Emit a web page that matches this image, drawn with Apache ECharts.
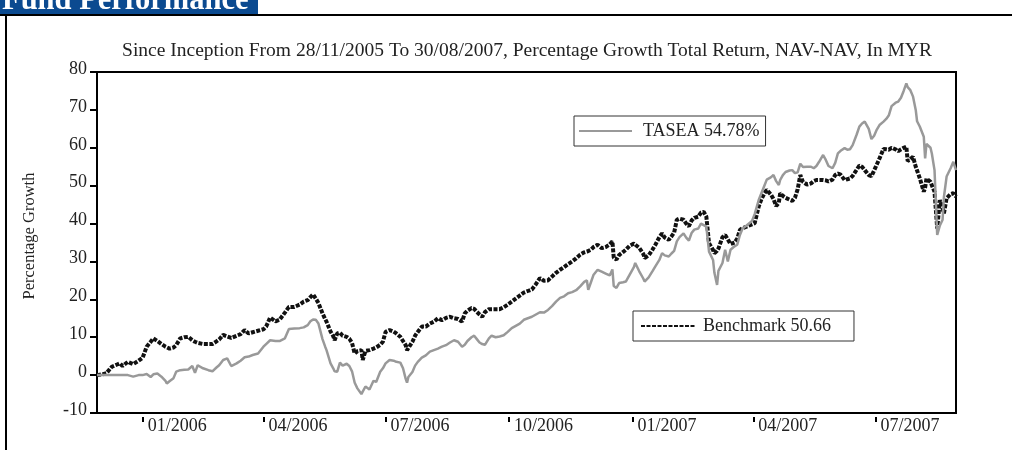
<!DOCTYPE html>
<html>
<head>
<meta charset="utf-8">
<script src="https://cdn.jsdelivr.net/npm/echarts@6/dist/echarts.min.js"></script>
<style>
html, body { margin: 0; padding: 0; background: #fff; }
#chart { width: 1012px; height: 450px; }
</style>
</head>
<body>
<div id="chart"></div>
<script>
// dates of the readings (one list shared by both lines)
const dates = [
  '2005-11-28','2005-12-02','2005-12-05','2005-12-09','2005-12-13','2005-12-15','2005-12-17','2005-12-21','2005-12-25','2005-12-29',
  '2006-01-01','2006-01-04','2006-01-07','2006-01-09','2006-01-12','2006-01-15','2006-01-18','2006-01-19','2006-01-21','2006-01-24','2006-01-26','2006-01-29',
  '2006-02-01','2006-02-04','2006-02-07','2006-02-09','2006-02-11','2006-02-15','2006-02-19','2006-02-22','2006-02-25','2006-02-27',
  '2006-03-02','2006-03-05','2006-03-08','2006-03-12','2006-03-15','2006-03-18','2006-03-21','2006-03-24','2006-03-28',
  '2006-04-01','2006-04-03','2006-04-06','2006-04-10','2006-04-13','2006-04-17','2006-04-20','2006-04-24','2006-04-28',
  '2006-05-01','2006-05-04','2006-05-06','2006-05-08','2006-05-10','2006-05-12','2006-05-15','2006-05-17','2006-05-18','2006-05-21','2006-05-23','2006-05-24','2006-05-26','2006-05-28','2006-05-30',
  '2006-06-02','2006-06-04','2006-06-06','2006-06-08','2006-06-10','2006-06-13','2006-06-14','2006-06-16','2006-06-19','2006-06-22','2006-06-24','2006-06-27','2006-06-29',
  '2006-07-01','2006-07-04','2006-07-07','2006-07-09','2006-07-12','2006-07-14','2006-07-16','2006-07-17','2006-07-18','2006-07-21','2006-07-23','2006-07-25','2006-07-28','2006-07-31',
  '2006-08-03','2006-08-06','2006-08-09','2006-08-12','2006-08-15','2006-08-18','2006-08-21','2006-08-24','2006-08-27','2006-08-29','2006-08-31',
  '2006-09-03','2006-09-05','2006-09-07','2006-09-09','2006-09-11','2006-09-13','2006-09-16','2006-09-18','2006-09-21','2006-09-24','2006-09-27','2006-09-30',
  '2006-10-03','2006-10-06','2006-10-09','2006-10-12','2006-10-15','2006-10-18','2006-10-21','2006-10-24','2006-10-27','2006-10-30',
  '2006-11-02','2006-11-05','2006-11-08','2006-11-11','2006-11-14','2006-11-17','2006-11-20','2006-11-23','2006-11-26','2006-11-28','2006-11-29',
  '2006-12-01','2006-12-03','2006-12-06','2006-12-09','2006-12-12','2006-12-15','2006-12-17','2006-12-18','2006-12-20','2006-12-22','2006-12-25','2006-12-27','2006-12-30',
  '2007-01-02','2007-01-03','2007-01-06','2007-01-09','2007-01-10','2007-01-13','2007-01-16','2007-01-18','2007-01-21','2007-01-23','2007-01-25','2007-01-28','2007-01-30',
  '2007-02-01','2007-02-03','2007-02-05','2007-02-08','2007-02-10','2007-02-12','2007-02-14','2007-02-16','2007-02-19','2007-02-21','2007-02-23','2007-02-25','2007-02-27',
  '2007-03-02','2007-03-03','2007-03-05','2007-03-06','2007-03-09','2007-03-11','2007-03-13','2007-03-15','2007-03-18','2007-03-20','2007-03-22','2007-03-24','2007-03-27','2007-03-29','2007-03-31',
  '2007-04-02','2007-04-05','2007-04-07','2007-04-09','2007-04-11','2007-04-14','2007-04-16','2007-04-18','2007-04-20','2007-04-21','2007-04-23','2007-04-25','2007-04-28','2007-04-30',
  '2007-05-02','2007-05-04','2007-05-06','2007-05-08','2007-05-11','2007-05-14','2007-05-16','2007-05-18','2007-05-20','2007-05-23','2007-05-25','2007-05-27','2007-05-30',
  '2007-06-01','2007-06-03','2007-06-05','2007-06-08','2007-06-10','2007-06-12','2007-06-14','2007-06-17','2007-06-19','2007-06-21','2007-06-23','2007-06-26','2007-06-28','2007-06-30',
  '2007-07-02','2007-07-04','2007-07-07','2007-07-09','2007-07-11','2007-07-13','2007-07-16','2007-07-18','2007-07-20','2007-07-22','2007-07-24','2007-07-25','2007-07-27','2007-07-29','2007-07-31',
  '2007-08-01','2007-08-03','2007-08-06','2007-08-07','2007-08-08','2007-08-11','2007-08-12','2007-08-14','2007-08-16','2007-08-18','2007-08-20','2007-08-21','2007-08-23','2007-08-26','2007-08-28','2007-08-30'
]

const tasea = [
  0, 0, 0, 0, 0, 0, 0, 0, -0.4, 0,
  0, 0.3, -0.5, 0.2, 0.4, -0.4, -1.5, -2.2, -1.6, -0.8, 0.9, 1.3,
  1.4, 1.5, 2.4, 0.6, 2.6, 1.8, 1.3, 1.0, 2.0, 2.6,
  4.0, 4.4, 2.4, 3.1, 3.8, 4.7, 4.9, 5.3, 5.7,
  7.5, 8.2, 9.2, 9.0, 9.0, 9.7, 12.2, 12.3, 12.4,
  12.6, 13.2, 14.2, 14.7, 14.6, 13.6, 9.5, 7.5, 6.6, 3.1, 1.8, 1.0, 0.9, 3.3, 2.5,
  3.0, 2.4, 1.0, -2.0, -3.5, -5.0, -4.6, -3.0, -3.8, -1.5, -1.8, 0.9, 1.8,
  3.1, 4.0, 3.8, 3.5, 3.3, 1.8, -1.0, -2.0, -0.5, 0.8, 2.5, 3.5, 4.6, 5.2,
  6.2, 6.6, 7.0, 7.5, 7.9, 8.6, 9.2, 8.8, 7.5, 8.0, 9.0,
  10.0, 10.4, 9.5, 8.6, 8.2, 8.0, 9.7, 10.4, 10.0, 10.2, 10.5, 11.4,
  12.4, 13.0, 13.6, 14.6, 15.0, 15.4, 16.0, 16.6, 16.5, 17.2,
  18.2, 19.4, 20.4, 20.8, 21.6, 21.9, 22.4, 23.4, 24.6, 25.0, 22.5,
  24.5, 26.5, 27.8, 27.3, 26.8, 26.3, 27.9, 23.5, 23.0, 24.3, 24.5, 24.7, 26.6,
  28.5, 29.6, 27.4, 25.5, 24.7, 25.8, 27.5, 28.7, 30.4, 32.2, 31.6, 31.3, 32.1,
  32.8, 35.3, 36.4, 37.4, 36.3, 35.5, 37.5, 38.4, 38.7, 40.0, 39.6, 39.2, 32.6,
  30.4, 27.0, 23.8, 27.5, 29.6, 33.1, 30.0, 33.1, 34.0, 34.4, 37.0, 38.7, 39.5, 40.1, 40.7,
  42.5, 46.2, 48.0, 49.8, 51.6, 52.2, 52.8, 51.2, 50.2, 51.5, 52.8, 53.6, 54.0, 54.1,
  53.3, 53.5, 55.8, 54.9, 55.0, 55.0, 54.6, 55.2, 56.3, 58.1, 56.8, 55.2, 54.6,
  56.0, 58.5, 59.2, 59.9, 59.5, 59.6, 60.7, 63.5, 65.6, 66.4, 66.9, 65.0, 62.3, 63.2,
  64.8, 66.0, 66.9, 67.6, 68.6, 71.0, 71.9, 72.2, 73.2, 75.0, 77.0, 76.0, 75.2, 73.5, 70.0,
  67.0, 65.6, 62.9, 57.2, 61.0, 60.0, 58.5, 54.1, 37.0, 39.5, 41.0, 47.0, 52.4, 54.6, 56.3, 54.1
]

const benchmark = [
  0, 0.2, 0.5, 2.2, 2.8, 3.1, 2.4, 3.5, 2.9, 3.8,
  4.6, 7.5, 8.8, 9.7, 9.0, 8.2, 7.5, 7.4, 7.0, 7.3, 7.9, 9.7,
  10.0, 10.1, 9.2, 8.8, 8.5, 8.2, 8.2, 8.2, 8.9, 9.4,
  10.6, 10.2, 9.8, 10.4, 10.8, 11.9, 11.0, 11.3, 11.7,
  12.1, 12.8, 15.2, 14.2, 14.6, 16.5, 18.0, 18.0, 18.6,
  19.4, 19.8, 20.6, 21.3, 20.2, 19.0, 16.3, 14.8, 14.1, 11.5, 10.3, 9.2, 11.0, 11.2, 10.4,
  10.1, 9.6, 8.5, 5.7, 6.3, 6.6, 4.0, 6.4, 6.6, 7.0, 7.3, 8.0, 8.8,
  11.4, 11.9, 11.5, 11.0, 10.1, 9.0, 7.9, 6.6, 6.2, 8.8, 10.4, 11.4, 12.8, 12.8,
  13.6, 14.1, 15.0, 14.5, 15.1, 15.4, 15.0, 14.8, 14.1, 16.3, 17.0,
  17.7, 17.5, 16.7, 16.0, 15.4, 16.6, 17.4, 17.4, 17.4, 17.4, 17.9, 18.6,
  19.4, 20.2, 21.0, 21.8, 22.2, 22.6, 24.0, 25.6, 24.9, 25.0,
  26.0, 27.0, 27.8, 28.5, 29.3, 30.0, 30.8, 31.8, 32.4, 32.6, 32.7,
  33.1, 33.8, 34.4, 33.5, 33.8, 34.5, 35.3, 31.0, 30.5, 31.7, 32.5, 33.1, 34.2,
  34.7, 34.8, 33.6, 32.0, 30.9, 31.6, 33.2, 34.4, 36.4, 37.4, 36.3, 35.7, 36.6,
  37.6, 41.0, 41.3, 41.0, 40.0, 39.3, 40.8, 41.5, 41.8, 42.9, 43.1, 41.8, 34.8,
  33.0, 32.2, 32.8, 33.4, 36.4, 37.0, 35.8, 34.6, 35.0, 36.0, 38.3, 38.8, 39.2, 39.5, 39.8,
  40.1, 44.5, 46.4, 47.8, 48.9, 47.7, 46.5, 44.6, 45.5, 48.0, 47.3, 46.8, 46.3, 46.0,
  46.8, 49.0, 52.8, 51.0, 50.3, 50.6, 51.2, 51.5, 51.5, 51.5, 51.4, 51.1, 51.6,
  52.8, 53.2, 52.9, 51.5, 51.7, 51.9, 52.6, 54.2, 55.3, 55.0, 54.1, 52.8, 52.5, 54.0,
  55.6, 57.2, 59.7, 59.6, 59.5, 60.0, 59.6, 59.1, 59.6, 60.0, 60.3, 56.5, 57.0, 57.6, 55.0,
  54.0, 52.0, 48.4, 49.5, 51.9, 51.0, 50.6, 48.4, 38.7, 46.2, 44.0, 42.7, 46.7, 47.8, 48.0, 47.1
]

// x axis tick positions (first day of each quarter)
const tickDates = ['2006-01-01', '2006-04-01', '2006-07-01', '2006-10-01', '2007-01-01', '2007-04-01', '2007-07-01']
const startDate = '2005-11-28'
const endDate = '2007-08-30'

const FONT = 'Liberation Serif'
const TEXT = '#222'

const toTime = (s) => {
  const [y, m, d] = s.split('-').map(Number)
  return new Date(y, m - 1, d).getTime()
}
const fmtMonth = (v) => {
  const d = new Date(v)
  return String(d.getMonth() + 1).padStart(2, '0') + '/' + d.getFullYear()
}

const tickValues = tickDates.map(toTime)
const xMin = toTime(startDate)
const xMax = toTime(endDate)

const chart = echarts.init(document.getElementById('chart'))

// legend sample: the line only, no symbol
const legendBase = {
  itemHeight: 14,
  borderColor: '#333',
  borderWidth: 1,
  backgroundColor: '#fff',
  selectedMode: false,
  itemStyle: { color: 'transparent', borderColor: 'transparent', borderWidth: 0 }
}

const option = {
  animation: false,
  backgroundColor: '#fff',
  title: {
    text: 'Since Inception From 28/11/2005 To 30/08/2007, Percentage Growth Total Return, NAV-NAV, In MYR',
    left: 522,
    top: 36,
    textAlign: 'center',
    textStyle: { fontFamily: FONT, fontSize: 19.5, fontWeight: 'normal', color: TEXT }
  },
  grid: {
    left: 97,
    right: 56,
    top: 72,
    bottom: 37,
    show: true,
    borderColor: '#000',
    borderWidth: 2
  },
  legend: [
    Object.assign({}, legendBase, {
      data: ['TASEA 54.78%'],
      left: 574,
      top: 116,
      padding: [5, 6, 5, 4],
      itemWidth: 53,
      textStyle: { fontFamily: FONT, fontSize: 18, color: TEXT, lineHeight: 20, padding: [0, 0, 0, 6] }
    }),
    Object.assign({}, legendBase, {
      data: ['Benchmark 50.66'],
      left: 633,
      top: 311,
      padding: [5, 23, 5, 7],
      itemWidth: 55,
      textStyle: { fontFamily: FONT, fontSize: 18, color: TEXT, lineHeight: 20, padding: [0, 0, 0, 2] }
    })
  ],
  xAxis: [
    {
      type: 'value',
      min: xMin,
      max: xMax,
      axisLine: { show: true, onZero: false, lineStyle: { color: '#000', width: 2 } },
      axisTick: { show: false },
      axisLabel: { show: false },
      splitLine: { show: false }
    },
    {
      type: 'value',
      position: 'bottom',
      offset: 4,
      min: xMin,
      max: xMax,
      axisLine: { show: false, onZero: false },
      axisTick: {
        show: true,
        length: 5,
        customValues: tickValues,
        lineStyle: { color: '#000', width: 2 }
      },
      axisLabel: {
        customValues: tickValues,
        formatter: fmtMonth,
        align: 'left',
        padding: [0, 0, 0, 5],
        margin: 0,
        lineHeight: 18,
        fontFamily: FONT,
        fontSize: 18,
        color: TEXT
      },
      splitLine: { show: false }
    }
  ],
  yAxis: {
    type: 'value',
    min: -10,
    max: 80,
    interval: 10,
    axisLine: { show: true, lineStyle: { color: '#000', width: 2 } },
    axisTick: { show: true, length: 7, lineStyle: { color: '#000', width: 2 } },
    axisLabel: {
      margin: 10,
      verticalAlign: 'bottom',
      lineHeight: 6,
      fontFamily: FONT,
      fontSize: 18,
      color: TEXT
    },
    splitLine: { show: false }
  },
  graphic: [
    { type: 'rect', shape: { x: 0, y: 0, width: 258, height: 14 }, style: { fill: '#0b4a90' } },
    {
      type: 'text', x: 2, y: 17,
      style: { text: 'Fund Performance', fill: '#fff', font: 'bold 30.5px "Liberation Serif"', verticalAlign: 'bottom' }
    },
    { type: 'line', shape: { x1: 0, y1: 15, x2: 1012, y2: 15 }, style: { stroke: '#000', lineWidth: 2 } },
    { type: 'line', shape: { x1: 6, y1: 15, x2: 6, y2: 450 }, style: { stroke: '#000', lineWidth: 2 } },
    {
      type: 'text', x: 30, y: 236, rotation: Math.PI / 2,
      style: { text: 'Percentage Growth', fill: TEXT, font: '16.5px "Liberation Serif"', align: 'center', verticalAlign: 'middle' }
    }
  ],
  series: [
    {
      name: 'TASEA 54.78%',
      type: 'line',
      xAxisIndex: 0,
      symbol: 'none',
      z: 3,
      lineStyle: { color: '#999', width: 2.5 },
      itemStyle: { color: '#999' },
      data: dates.map((d, i) => [toTime(d), tasea[i]])
    },
    {
      name: 'Benchmark 50.66',
      type: 'line',
      xAxisIndex: 0,
      symbol: 'none',
      z: 2,
      lineStyle: { color: '#111', width: 4, type: [4, 1.5] },
      itemStyle: { color: '#111' },
      data: dates.map((d, i) => [toTime(d), benchmark[i]])
    }
  ]
}

chart.setOption(option)
window.addEventListener('resize', () => chart.resize())
</script>
</body>
</html>
